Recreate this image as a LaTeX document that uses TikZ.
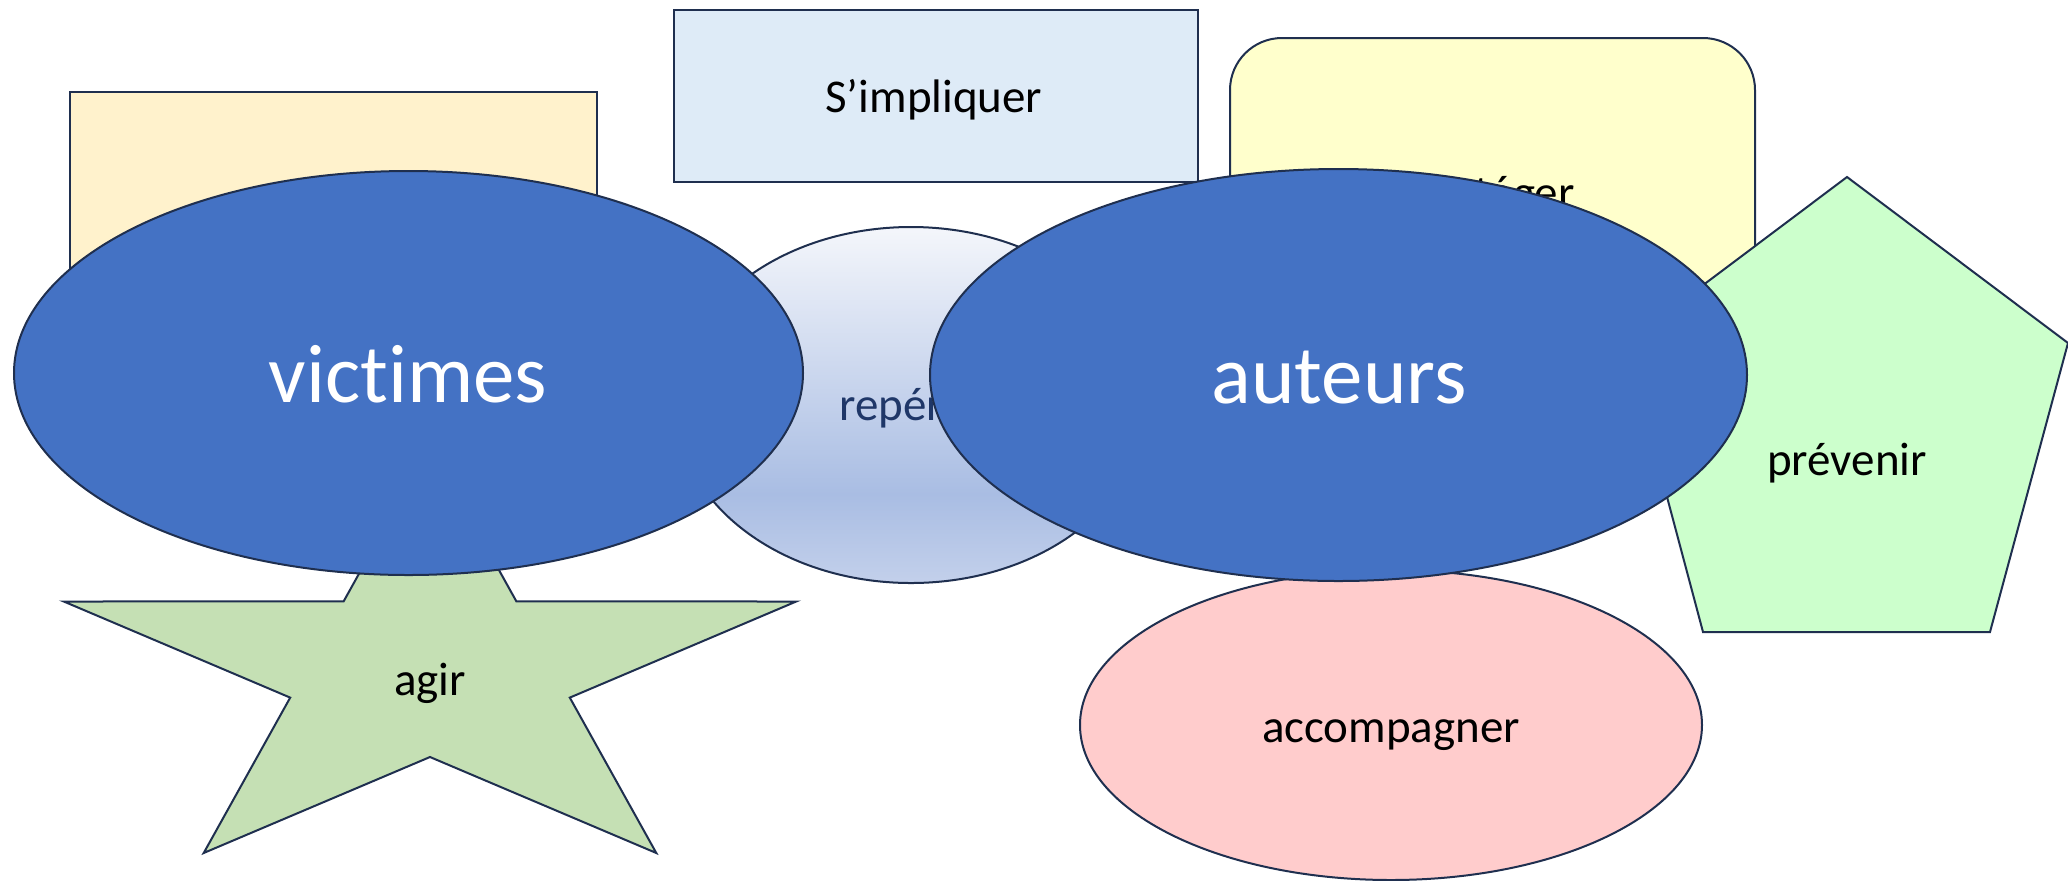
\documentclass[tikz,border=0pt]{standalone}
\usepackage{fontspec}
\setmainfont{Carlito}[Ligatures={NoCommon}]
\usetikzlibrary{shapes.geometric}
\definecolor{edge}{HTML}{1F2F4F}
\definecolor{orangefill}{HTML}{FFF2CC}
\definecolor{skyfill}{HTML}{DEEBF7}
\definecolor{yellowfill}{HTML}{FFFFCC}
\definecolor{starfill}{HTML}{C5E0B4}
\definecolor{pentfill}{HTML}{CCFFCC}
\definecolor{pinkfill}{HTML}{FFCCCC}
\definecolor{bluefill}{HTML}{4472C4}
\definecolor{reptext}{HTML}{1F3768}
\definecolor{reptop}{HTML}{F4F6FB}
\definecolor{repmid}{HTML}{A9BDE3}
\definecolor{repbot}{HTML}{C3D0EB}
\pgfdeclareverticalshading{repshade}{100bp}{color(0bp)=(repbot); color(25bp)=(repbot); color(37.5bp)=(repmid); color(75bp)=(reptop); color(100bp)=(reptop)}
\begin{document}
\begin{tikzpicture}[x=0.5pt,y=-0.5pt,
  shp/.style={draw=edge, line width=1pt, inner sep=0pt, outer sep=0pt},
  outline/.style={draw=edge, line width=1pt, line join=miter},
  txt/.style={anchor=base, inner sep=0pt, font=\fontsize{23.5}{28}\selectfont, text=black},
  bigtxt/.style={anchor=base, inner sep=0pt, font=\fontsize{41.5}{50}\selectfont, text=white}]
\useasboundingbox (0,0) rectangle (2068,880);

% orange rectangle (text hidden)
\node[shp, rectangle, fill=orangefill, minimum width=263.5pt, minimum height=144pt] (orange) at (333.5,236) {};

% S'impliquer
\node[shp, rectangle, fill=skyfill, minimum width=262pt, minimum height=86pt] (implique) at (936,96) {};
\node[txt] (implique-t) at (934,112) {S’impliquer};

% protéger (rounded)
\node[shp, rectangle, rounded corners=26pt, fill=yellowfill, minimum width=262.5pt, minimum height=157pt] (protege) at (1492.5,195) {};
\node[txt] (protege-t) at (1492,208) {protéger};

% repérer (gradient ellipse)
\node[shp, ellipse, shade, shading=repshade, minimum width=235pt, minimum height=178pt] (repere) at (911,405) {};
\node[txt, text=reptext] (repere-t) at (911,420) {repérer};

% agir (star)
\path[outline, fill=starfill]
  (430,446) -- (343.6,601.4) -- (63.8,601.5) -- (290.2,697.6) -- (203.7,853)
  -- (430,757) -- (656.3,853) -- (569.8,697.6) -- (796.2,601.5) -- (516.4,601.4) -- cycle;
\node[txt] (agir) at (430,695) {agir};

% prévenir (pentagon)
\path[outline, fill=pentfill]
  (1847,177) -- (2068,343) -- (1990,632) -- (1703,632) -- (1626,343) -- cycle;
\node[txt] (prevenir) at (1847,475) {prévenir};

% accompagner
\node[shp, ellipse, fill=pinkfill, minimum width=311pt, minimum height=155pt] (accomp) at (1391,725) {};
\node[txt] (accomp-t) at (1391,742) {accompagner};

% victimes
\node[shp, ellipse, fill=bluefill, minimum width=394.5pt, minimum height=202pt] (victimes) at (408.5,373) {};
\node[bigtxt] (victimes-t) at (408,402) {victimes};

% auteurs
\node[shp, ellipse, fill=bluefill, minimum width=408.5pt, minimum height=206pt] (auteurs) at (1338.5,375) {};
\node[bigtxt] (auteurs-t) at (1339,403) {auteurs};
\end{tikzpicture}
\end{document}
